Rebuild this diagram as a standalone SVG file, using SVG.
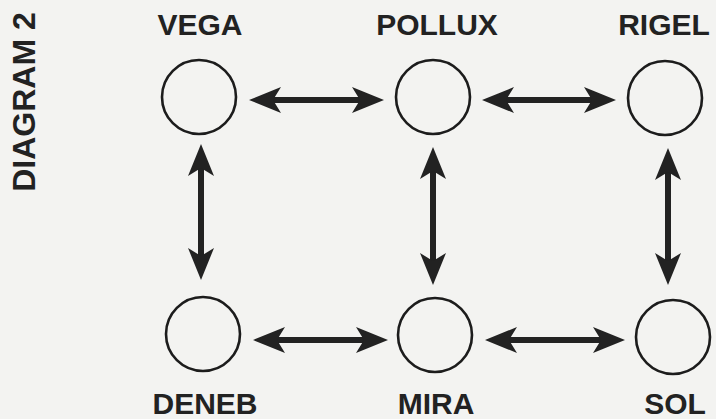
<svg xmlns="http://www.w3.org/2000/svg" width="716" height="419" viewBox="0 0 716 419">
<style>
.bg{fill:#f3f3f1}
.n{fill:none;stroke:#1c1c1c;stroke-width:2.6}
.t{font-family:"Liberation Sans",Arial,sans-serif;font-weight:bold;font-size:30px;fill:#222;text-anchor:middle}
.a{stroke:#222;stroke-width:6;fill:none;marker-start:url(#ah);marker-end:url(#ah)}
</style>
<defs>
<marker id="ah" viewBox="0 -14 32 28" refX="12" refY="0" markerWidth="32" markerHeight="28" markerUnits="userSpaceOnUse" orient="auto-start-reverse">
<path d="M32,0 L0,-13 L8,0 L0,13 Z" fill="#222"/>
</marker>
</defs>
<rect class="bg" x="0" y="0" width="716" height="419"/>
<text class="t" style="font-size:32px" transform="translate(35,102) rotate(-90)">DIAGRAM 2</text>
<g id="vega"><circle class="n" cx="199" cy="97" r="37"/><text class="t" x="200" y="35">VEGA</text></g>
<g id="pollux"><circle class="n" cx="433" cy="97" r="37"/><text class="t" x="437" y="35">POLLUX</text></g>
<g id="rigel"><circle class="n" cx="665" cy="98" r="37"/><text class="t" x="664" y="35">RIGEL</text></g>
<g id="deneb"><circle class="n" cx="203" cy="334" r="37"/><text class="t" x="205" y="414">DENEB</text></g>
<g id="mira"><circle class="n" cx="435" cy="335" r="37"/><text class="t" x="436" y="414">MIRA</text></g>
<g id="sol"><circle class="n" cx="673" cy="337" r="37"/><text class="t" x="675" y="414">SOL</text></g>
<g id="connectors">
<line class="a" x1="269" y1="100" x2="364" y2="100"/>
<line class="a" x1="502" y1="100" x2="596" y2="100"/>
<line class="a" x1="201" y1="164" x2="201" y2="260"/>
<line class="a" x1="433" y1="167" x2="433" y2="265"/>
<line class="a" x1="668" y1="168" x2="668" y2="265"/>
<line class="a" x1="273" y1="340" x2="368" y2="340"/>
<line class="a" x1="505" y1="340" x2="605" y2="340"/>
</g>
</svg>
